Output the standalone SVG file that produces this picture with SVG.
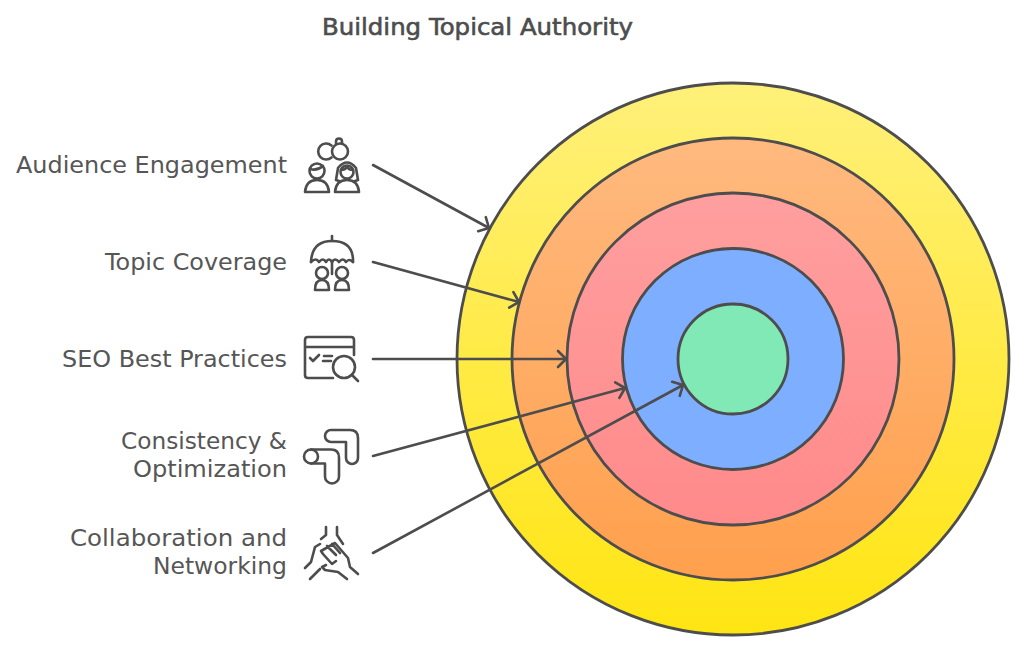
<svg xmlns="http://www.w3.org/2000/svg" width="1024" height="651" viewBox="0 0 1024 651">
<style>
.t{font-family:"DejaVu Sans","Noto Sans",sans-serif;font-size:23px;fill:#565656;font-weight:400}
.ti{font-family:"DejaVu Sans","Noto Sans",sans-serif;font-size:23px;fill:#4d4d4d;stroke:#4d4d4d;stroke-width:.6}
.c{stroke:#4d4d4d;stroke-width:2.8}
.i{fill:none;stroke:#4d4d4d;stroke-width:2.6;stroke-linecap:round;stroke-linejoin:round}
.l{fill:none;stroke:#4d4d4d;stroke-width:2.6;stroke-linecap:round;marker-end:url(#a)}
</style>
<defs>
<marker id="a" markerUnits="userSpaceOnUse" markerWidth="20" markerHeight="20" refX="13" refY="10" orient="auto" overflow="visible"><path d="M5 2L13 10L5 18" fill="none" stroke="#4d4d4d" stroke-width="2.6" stroke-linecap="round" stroke-linejoin="round"/></marker>
<linearGradient id="g1" x1="0" y1="0" x2="0" y2="1"><stop offset="0" stop-color="#FFF07A"/><stop offset="1" stop-color="#FFE512"/></linearGradient>
<linearGradient id="g2" x1="0" y1="0" x2="0" y2="1"><stop offset="0" stop-color="#FFB97F"/><stop offset="1" stop-color="#FFA04D"/></linearGradient>
<linearGradient id="g3" x1="0" y1="0" x2="0" y2="1"><stop offset="0" stop-color="#FF9F9F"/><stop offset="1" stop-color="#FF8A8A"/></linearGradient>
</defs>
<text class="ti" x="322" y="35" textLength="311" lengthAdjust="spacingAndGlyphs">Building Topical Authority</text>
<g id="rings">
<circle id="ring1" class="c" cx="733" cy="359" r="276" fill="url(#g1)"/>
<circle id="ring2" class="c" cx="733" cy="359" r="221" fill="url(#g2)"/>
<circle id="ring3" class="c" cx="733" cy="359" r="166" fill="url(#g3)"/>
<circle id="ring4" class="c" cx="733" cy="359" r="110.500" fill="#7DAEFF"/>
<circle id="ring5" class="c" cx="733" cy="359" r="55" fill="#80E9B6"/>
</g>
<g id="connectors">
<path class="l" d="M373 165L489 228"/>
<path class="l" d="M373 262L519 302"/>
<path class="l" d="M373 359L566 359"/>
<path class="l" d="M373 456L625 388"/>
<path class="l" d="M373 553L683 385"/>
</g>
<g id="n1"><text class="t" x="16" y="173" textLength="271" lengthAdjust="spacingAndGlyphs">Audience Engagement</text>
<g class="i"><path d="M331.500 145.500a8 8 0 1 0 0 12"/><circle cx="340" cy="151.500" r="8"/><path d="M336 143.500v-2q0-3 3-3q3 0 3 3v2"/>
<circle cx="317" cy="171" r="7.500"/><path d="M310 169q7 2 13-3"/><path d="M305 192q1-12 12-12q11 0 12 12z"/>
<circle cx="347" cy="172" r="6.500"/><path d="M341 170q4 0 6-3q2 3 6 3"/><path d="M338 168q9-11 18 0l2 12l-3 1M338 168l-2 12l3 1"/><path d="M335 192q1-12 12-12q11 0 12 12z"/></g></g>
<g id="n2"><text class="t" x="105" y="270" textLength="182" lengthAdjust="spacingAndGlyphs">Topic Coverage</text>
<g class="i"><path d="M332 236v5"/><path d="M311 262q1-21 21-21q20 0 21 18v3"/><path d="M311 262q5-5 8 0q4-5 7 0q3-5 6 0q3-5 7 0q4-5 7 0q3-4 7 0"/><path d="M332 262v12"/>
<circle cx="322" cy="273" r="6"/><path d="M315 290q0-10 7-10q7 0 7 10z"/><circle cx="342" cy="273" r="6"/><path d="M335 290q0-10 7-10q7 0 7 10z"/></g></g>
<g id="n3"><text class="t" x="62" y="367" textLength="225" lengthAdjust="spacingAndGlyphs">SEO Best Practices</text>
<g class="i"><path d="M333 378h-25q-3 0-3-3v-35q0-3 3-3h43q3 0 3 3v15M305 347h49"/><path d="M310 358l3 3l6-6M324 356h8M323 361h8"/><circle cx="344" cy="367" r="11"/><path d="M352 375l6 6"/></g></g>
<g id="n4"><text class="t" x="121" y="449" textLength="166" lengthAdjust="spacingAndGlyphs">Consistency &amp;</text><text class="t" x="133" y="477" textLength="154" lengthAdjust="spacingAndGlyphs">Optimization</text>
<g class="i"><path d="M331 430h19q8 0 8 8v20a6 6 0 0 1-12 0v-16h-15a6 6 0 0 1 0-12z"/><circle cx="311" cy="456.500" r="7"/><path d="M311 449.500h20q8 0 8 8v19a7 7 0 0 1-14 0v-13h-14"/></g></g>
<g id="n5"><text class="t" x="70" y="546" textLength="217" lengthAdjust="spacingAndGlyphs">Collaboration and</text><text class="t" x="153" y="574" textLength="134" lengthAdjust="spacingAndGlyphs">Networking</text>
<g class="i"><path d="M326 527v8l-5 4M337 527v8l6 9"/><path d="M305 568l6-6l4-15l5-3"/><path d="M310 579l10-10"/><path d="M347 579l-9-7l-13-2l-3-3l4-2"/><path d="M358 574l-8-7l-2-9l-13-15l-14 8l2 3l9 10l4-3M327 546l9 9M332 544l8 9"/></g></g>
</svg>
